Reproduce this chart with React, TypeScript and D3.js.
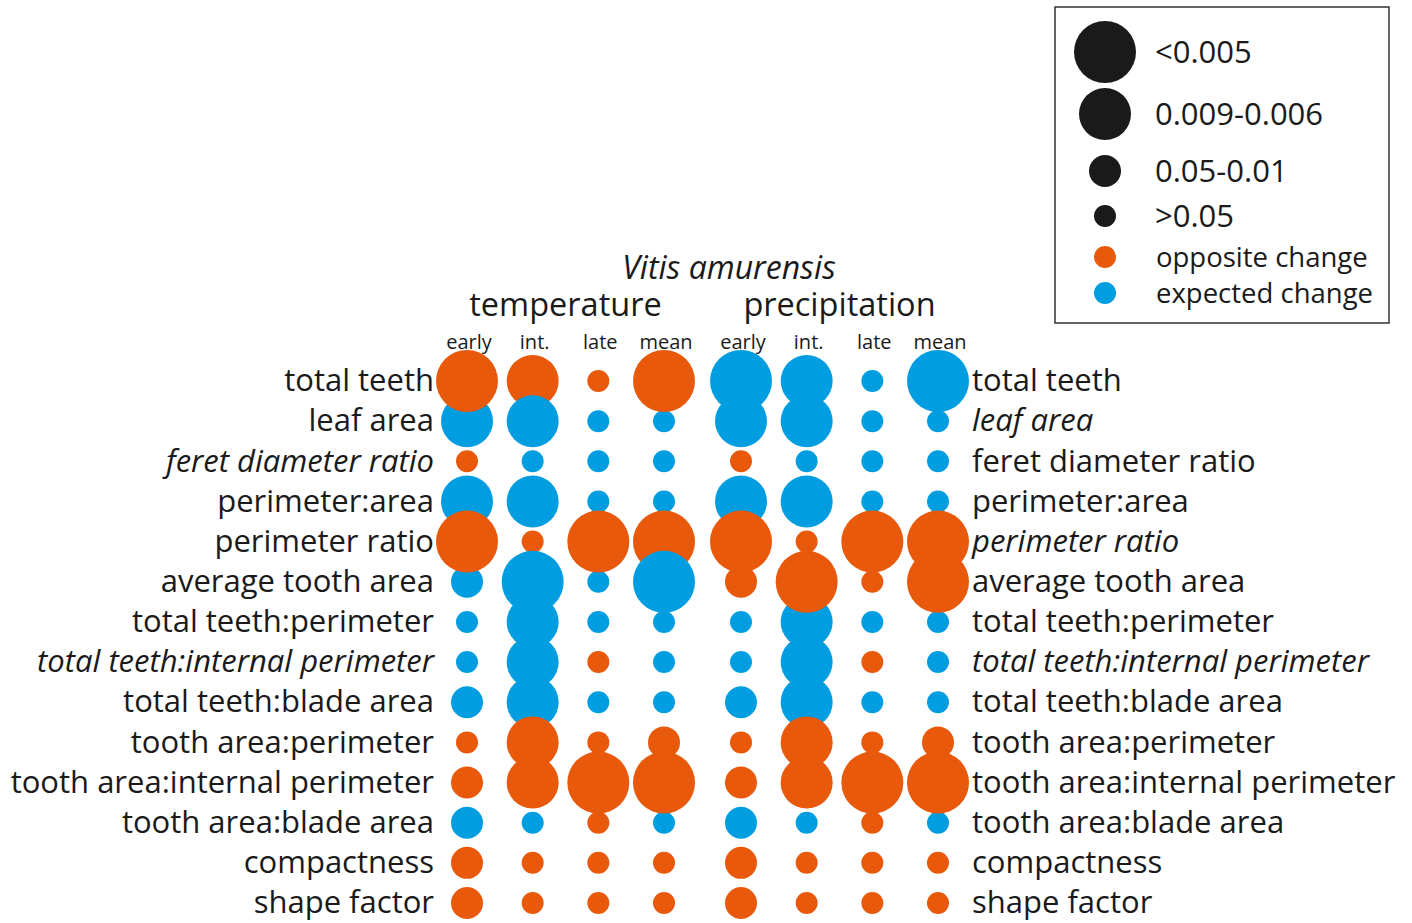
import React from "react";
import * as d3 from "d3";

// ---------- data ----------
const traits = [
  "total teeth",
  "leaf area",
  "feret diameter ratio",
  "perimeter:area",
  "perimeter ratio",
  "average tooth area",
  "total teeth:perimeter",
  "total teeth:internal perimeter",
  "total teeth:blade area",
  "tooth area:perimeter",
  "tooth area:internal perimeter",
  "tooth area:blade area",
  "compactness",
  "shape factor",
];
const leftItalic = [false, false, true, false, false, false, false, true, false, false, false, false, false, false];
const rightItalic = [false, true, false, false, true, false, false, true, false, false, false, false, false, false];

const climateGroups = ["temperature", "precipitation"];
const periods = ["early", "int.", "late", "mean"];

// significance class per trait: 4 = <0.005, 3 = 0.009-0.006, 2 = 0.05-0.01, 1 = >0.05
// order: temperature early,int,late,mean | precipitation early,int,late,mean
const significance = [
  [4, 3, 1, 4, 4, 3, 1, 4],
  [3, 3, 1, 1, 3, 3, 1, 1],
  [1, 1, 1, 1, 1, 1, 1, 1],
  [3, 3, 1, 1, 3, 3, 1, 1],
  [4, 1, 4, 4, 4, 1, 4, 4],
  [2, 4, 1, 4, 2, 4, 1, 4],
  [1, 3, 1, 1, 1, 3, 1, 1],
  [1, 3, 1, 1, 1, 3, 1, 1],
  [2, 3, 1, 1, 2, 3, 1, 1],
  [1, 3, 1, 2, 1, 3, 1, 2],
  [2, 3, 4, 4, 2, 3, 4, 4],
  [2, 1, 1, 1, 2, 1, 1, 1],
  [2, 1, 1, 1, 2, 1, 1, 1],
  [2, 1, 1, 1, 2, 1, 1, 1],
];
// direction: "o" = opposite change, "e" = expected change
const direction = [
  ["o", "o", "o", "o", "e", "e", "e", "e"],
  ["e", "e", "e", "e", "e", "e", "e", "e"],
  ["o", "e", "e", "e", "o", "e", "e", "e"],
  ["e", "e", "e", "e", "e", "e", "e", "e"],
  ["o", "o", "o", "o", "o", "o", "o", "o"],
  ["e", "e", "e", "e", "o", "o", "o", "o"],
  ["e", "e", "e", "e", "e", "e", "e", "e"],
  ["e", "e", "o", "e", "e", "e", "o", "e"],
  ["e", "e", "e", "e", "e", "e", "e", "e"],
  ["o", "o", "o", "o", "o", "o", "o", "o"],
  ["o", "o", "o", "o", "o", "o", "o", "o"],
  ["e", "e", "o", "e", "e", "e", "o", "e"],
  ["o", "o", "o", "o", "o", "o", "o", "o"],
  ["o", "o", "o", "o", "o", "o", "o", "o"],
];

const sizeLevels = [4, 3, 2, 1];
const sizeLabels = ["<0.005", "0.009-0.006", "0.05-0.01", ">0.05"];
const directionKeys = ["o", "e"];
const directionLabels = ["opposite change", "expected change"];

const title = "Vitis amurensis";

// ---------- styles ----------
const ORANGE = "#E8590C";
const BLUE = "#009EE0";
const FONT = "'Open Sans', 'DejaVu Sans', sans-serif";

export default function App() {
  const W = 1412;
  const H = 923;

  const groupX = d3.scalePoint<string>().domain(climateGroups).range([467, 741]);
  const periodX = d3.scalePoint<string>().domain(periods).range([0, 197]);
  const colX = (gi: number, pi: number) => (groupX(climateGroups[gi]) as number) + (periodX(periods[pi]) as number);

  const y = d3.scalePoint<string>().domain(traits).range([381, 903]);
  const r = d3.scaleOrdinal<number, number>().domain(sizeLevels).range([31, 26, 16, 11]);
  const color = d3.scaleOrdinal<string, string>().domain(directionKeys).range([ORANGE, BLUE]);

  type Cell = { row: number; col: number; x: number; y: number; r: number; fill: string };
  const cells: Cell[] = [];
  traits.forEach((t, ri) => {
    significance[ri].forEach((s, ci) => {
      const gi = Math.floor(ci / periods.length);
      const pi = ci % periods.length;
      cells.push({
        row: ri,
        col: ci,
        x: colX(gi, pi),
        y: y(t) as number,
        r: r(s),
        fill: color(direction[ri][ci]),
      });
    });
  });
  const ordered = d3.sort(cells, (a, b) => d3.ascending(a.r, b.r) || d3.ascending(a.row, b.row));

  const firstX = colX(0, 0);
  const lastX = colX(1, 3);
  const leftLabelX = firstX - 33;
  const rightLabelX = lastX + 34;

  // legend layout
  const legX = 1105;
  const legSizeY = d3.scaleOrdinal<number, number>().domain(sizeLevels).range([52, 114, 171, 216]);
  const legDirY = d3.scalePoint<string>().domain(directionKeys).range([257, 293]);

  return (
    <svg
      width={W}
      height={H}
      style={{ position: "absolute", left: 0, top: 0, background: "#fff" }}
      fontFamily={FONT}
    >
      {/* header */}
      <text x={729} y={279} textAnchor="middle" fontSize={32} fontStyle="italic" fill="#1a1a1a">
        {title}
      </text>
      {climateGroups.map((g, gi) => (
        <text
          key={g}
          x={(colX(gi, 0) + colX(gi, 3)) / 2}
          y={316}
          textAnchor="middle"
          fontSize={32.5}
          fill="#1a1a1a"
        >
          {g}
        </text>
      ))}
      {climateGroups.map((g, gi) =>
        periods.map((p, pi) => (
          <text
            key={g + p}
            x={colX(gi, pi) + 2}
            y={349}
            textAnchor="middle"
            fontSize={20}
            fill="#1a1a1a"
          >
            {p}
          </text>
        ))
      )}

      {/* bubbles */}
      {ordered.map((c) => (
        <circle key={c.row + "-" + c.col} cx={c.x} cy={c.y} r={c.r} fill={c.fill} />
      ))}

      {/* row labels */}
      {traits.map((t, i) => (
        <text
          key={"l" + t}
          x={leftLabelX}
          y={y(t) as number}
          dy="0.33em"
          textAnchor="end"
          fontSize={31}
          fontStyle={leftItalic[i] ? "italic" : "normal"}
          fill="#1a1a1a"
        >
          {t}
        </text>
      ))}
      {traits.map((t, i) => (
        <text
          key={"r" + t}
          x={rightLabelX}
          y={y(t) as number}
          dy="0.33em"
          textAnchor="start"
          fontSize={31}
          fontStyle={rightItalic[i] ? "italic" : "normal"}
          fill="#1a1a1a"
        >
          {t}
        </text>
      ))}

      {/* legend */}
      <rect x={1055} y={7} width={334} height={316} fill="none" stroke="#333" strokeWidth={1.5} />
      {sizeLevels.map((s, i) => (
        <g key={"ls" + s}>
          <circle cx={legX} cy={legSizeY(s)} r={r(s)} fill="#1a1a1a" />
          <text x={1155} y={legSizeY(s)} dy="0.36em" fontSize={31} fill="#1a1a1a">
            {sizeLabels[i]}
          </text>
        </g>
      ))}
      {directionKeys.map((k, i) => (
        <g key={"ld" + k}>
          <circle cx={legX} cy={legDirY(k) as number} r={11} fill={color(k)} />
          <text x={1156} y={legDirY(k) as number} dy="0.36em" fontSize={27.5} fill="#1a1a1a">
            {directionLabels[i]}
          </text>
        </g>
      ))}
    </svg>
  );
}
